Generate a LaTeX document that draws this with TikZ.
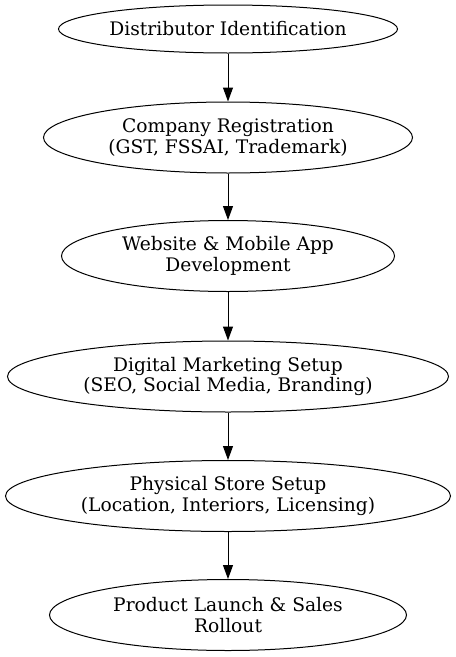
\documentclass[tikz,border=0pt]{standalone}
\usepackage{fontspec}
\setmainfont{DejaVu Serif}
\usepackage{tikz}
\usetikzlibrary{arrows.meta,positioning,shapes.geometric}

\begin{document}
\begin{tikzpicture}[
  x=0.75pt,y=-0.75pt,
  stage/.style={ellipse,draw,line width=0.75pt,inner sep=0pt,align=center,
    font=\fontsize{14}{15.5}\selectfont,minimum height=53.25pt},
  flow/.style={-{Triangle[length=10.5pt,width=7.5pt]},line width=0.75pt},
]
\useasboundingbox (0,0) rectangle (456,657);

% Stages
\node[stage,minimum width=254.25pt,minimum height=36pt] (dist) at (228,29) {Distributor Identification};
\node[stage,minimum width=276.75pt] (reg) at (228,137.5) {Company Registration\\(GST, FSSAI, Trademark)};
\node[stage,minimum width=249.75pt] (web) at (228,256) {Website \& Mobile App\\Development};
\node[stage,minimum width=330.75pt] (mkt) at (228,376.5) {Digital Marketing Setup\\(SEO, Social Media, Branding)};
\node[stage,minimum width=333.75pt] (store) at (228,496) {Physical Store Setup\\(Location, Interiors, Licensing)};
\node[stage,minimum width=267.75pt] (launch) at (228,615) {Product Launch \& Sales\\Rollout};

% Flow
\draw[flow] (dist) -- (reg);
\draw[flow] (reg) -- (web);
\draw[flow] (web) -- (mkt);
\draw[flow] (mkt) -- (store);
\draw[flow] (store) -- (launch);

\end{tikzpicture}
\end{document}
